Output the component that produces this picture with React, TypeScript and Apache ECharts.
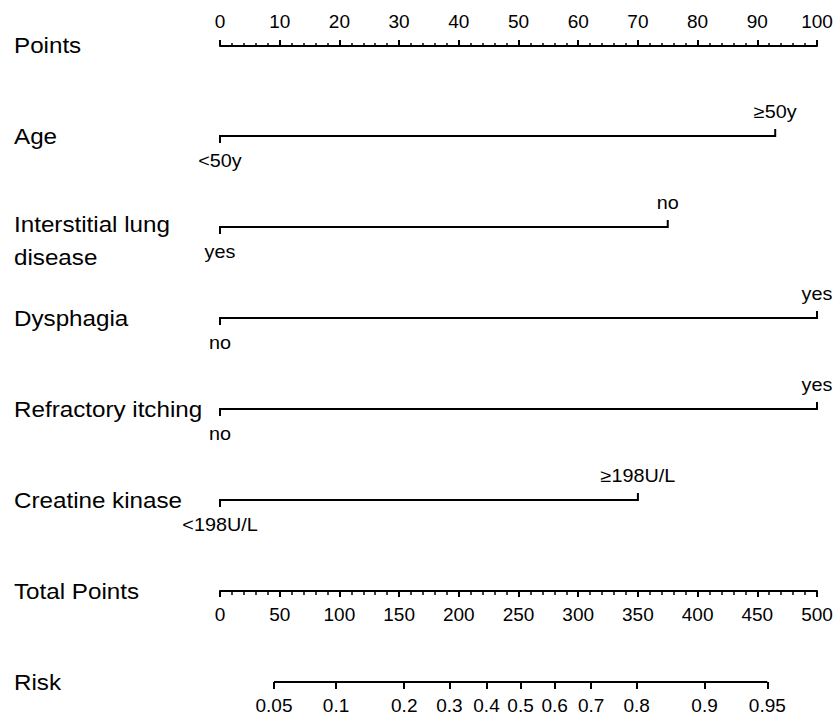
import React, { useEffect, useRef } from "react";
import * as echarts from "echarts";

// ---------- data ----------
const rowNames = [
  "Points",
  "Age",
  "Interstitial lung\ndisease",
  "Dysphagia",
  "Refractory itching",
  "Creatine kinase",
  "Total Points",
  "Risk",
];

// predictor rows (row index in the nomogram)
const varRows = [1, 2, 3, 4, 5];
const varLowPoints = [0, 0, 0, 0, 0];
const varHighPoints = [93, 75, 100, 100, 70];
const varLowLabels = ["<50y", "yes", "no", "no", "<198U/L"];
const varHighLabels = ["≥50y", "no", "yes", "yes", "≥198U/L"];

// points scale
const pointsMin = 0;
const pointsMax = 100;
const pointsInterval = 10;

// total points scale
const totalMin = 0;
const totalMax = 500;
const totalInterval = 50;

// risk scale: risk labels and the total-points positions they sit at
const riskLabels = ["0.05", "0.1", "0.2", "0.3", "0.4", "0.5", "0.6", "0.7", "0.8", "0.9", "0.95"];
const riskPositions = [45.2, 97.2, 154.3, 192.1, 223.2, 251.7, 280.3, 310.9, 348.9, 405.8, 458.4];

// ---------- layout ----------
const W = 837;
const H = 721;
const LEFT = 220;
const RIGHT = 20;
const ROW0 = 45;
const GAP = 91;
const LABEL_X = 14;
const FONT = "'Liberation Sans', Arial, Helvetica, sans-serif";
const STRETCH = 1.1;

export default function App() {
  const ref = useRef<HTMLDivElement>(null);

  useEffect(() => {
    if (!ref.current) return;
    const chart = echarts.init(ref.current, undefined, { renderer: "svg" });

    const axisText = { color: "#000", fontSize: 19, fontFamily: FONT };
    const blackLine = { color: "#000", width: 2 };

    const hiddenY = (gridIndex: number, min: number, max: number, inverse = false) => ({
      type: "value",
      gridIndex,
      min,
      max,
      inverse,
      show: false,
      splitLine: { show: false },
    });

    const option: any = {
      animation: false,
      backgroundColor: "#fff",
      grid: [
        { left: LEFT, right: RIGHT, top: ROW0, height: 1 }, // points axis
        { left: LEFT, right: RIGHT, top: ROW0 + 6 * GAP - 1, height: 1 }, // total points axis
        { left: LEFT, right: RIGHT, top: ROW0 + 7 * GAP - 1, height: 1 }, // risk axis
        { left: LEFT, right: RIGHT, top: ROW0, height: 7 * GAP }, // predictors
      ],
      xAxis: [
        {
          type: "value",
          gridIndex: 0,
          position: "top",
          min: pointsMin,
          max: pointsMax,
          interval: pointsInterval,
          axisLine: { show: true, lineStyle: blackLine },
          axisTick: { show: true, length: 6, lineStyle: { color: "#000", width: 2 } },
          minorTick: { show: true, splitNumber: 5, length: 3, lineStyle: { color: "#000", width: 1.5 } },
          splitLine: { show: false },
          minorSplitLine: { show: false },
          axisLabel: { ...axisText, margin: 14 },
        },
        {
          type: "value",
          gridIndex: 1,
          position: "bottom",
          min: totalMin,
          max: totalMax,
          interval: totalInterval,
          axisLine: { show: true, lineStyle: blackLine },
          axisTick: { show: true, length: 6, lineStyle: { color: "#000", width: 2 } },
          minorTick: { show: true, splitNumber: 5, length: 4, lineStyle: { color: "#000", width: 1.5 } },
          splitLine: { show: false },
          minorSplitLine: { show: false },
          axisLabel: { ...axisText, margin: 14 },
        },
        {
          type: "value",
          gridIndex: 2,
          position: "bottom",
          min: totalMin,
          max: totalMax,
          axisLine: { show: false },
          axisTick: {
            show: true,
            length: 7,
            customValues: riskPositions,
            lineStyle: { color: "#000", width: 2 },
          },
          splitLine: { show: false },
          axisLabel: {
            ...axisText,
            margin: 14,
            customValues: riskPositions,
            formatter: (v: number) => {
              let best = 0;
              riskPositions.forEach((p, i) => {
                if (Math.abs(p - v) < Math.abs(riskPositions[best] - v)) best = i;
              });
              return riskLabels[best];
            },
          },
        },
        {
          type: "value",
          gridIndex: 3,
          min: pointsMin,
          max: pointsMax,
          show: false,
          splitLine: { show: false },
        },
      ],
      yAxis: [
        hiddenY(0, 0, 1),
        hiddenY(1, 0, 1),
        hiddenY(2, 0, 1),
        hiddenY(3, 0, rowNames.length - 1, true),
      ],
      series: [
        // risk axis line between the first and last risk ticks
        {
          type: "custom",
          xAxisIndex: 2,
          yAxisIndex: 2,
          silent: true,
          data: [[riskPositions[0], riskPositions[riskPositions.length - 1]]],
          renderItem: (_p: any, api: any) => {
            const a = api.coord([api.value(0), 0]);
            const b = api.coord([api.value(1), 0]);
            return {
              type: "line",
              shape: { x1: a[0], y1: a[1], x2: b[0], y2: b[1] },
              style: { stroke: "#000", lineWidth: 2 },
            };
          },
        },
        // predictor rows
        {
          type: "custom",
          xAxisIndex: 3,
          yAxisIndex: 3,
          silent: true,
          data: varRows.map((r, i) => [r, varLowPoints[i], varHighPoints[i]]),
          renderItem: (params: any, api: any) => {
            const i = params.dataIndex;
            const row = api.value(0);
            const a = api.coord([api.value(1), row]);
            const b = api.coord([api.value(2), row]);
            const T = 7;
            const txt = (text: string, x: number, y: number) => ({
              type: "text",
              x,
              y,
              scaleX: STRETCH,
              style: {
                text,
                x: 0,
                y: 0,
                align: "center",
                verticalAlign: "middle",
                fontSize: 18,
                fontFamily: FONT,
                fill: "#000",
              },
            });
            return {
              type: "group",
              children: [
                {
                  type: "polyline",
                  shape: {
                    points: [
                      [a[0], a[1] + T],
                      [a[0], a[1]],
                      [b[0], b[1]],
                      [b[0], b[1] - T],
                    ],
                  },
                  style: { stroke: "#000", lineWidth: 2, fill: "none" },
                },
                txt(varLowLabels[i], a[0], a[1] + 25),
                txt(varHighLabels[i], b[0], b[1] - 24),
              ],
            };
          },
        },
        // row names
        {
          type: "custom",
          xAxisIndex: 3,
          yAxisIndex: 3,
          silent: true,
          data: rowNames.map((_, i) => [0, i]),
          renderItem: (params: any, api: any) => {
            const name = rowNames[params.dataIndex];
            const p = api.coord([0, api.value(1)]);
            const multi = name.indexOf("\n") >= 0;
            return {
              type: "text",
              x: LABEL_X,
              y: multi ? p[1] - 19 : p[1],
              scaleX: STRETCH,
              style: {
                text: name,
                x: 0,
                y: 0,
                align: "left",
                verticalAlign: multi ? "top" : "middle",
                fontSize: 22,
                lineHeight: 33,
                fontFamily: FONT,
                fill: "#000",
              },
            };
          },
        },
      ],
    };

    chart.setOption(option);
    return () => chart.dispose();
  }, []);

  return (
    <div
      ref={ref}
      style={{ position: "absolute", left: 0, top: 0, width: W, height: H, background: "#fff" }}
    />
  );
}
